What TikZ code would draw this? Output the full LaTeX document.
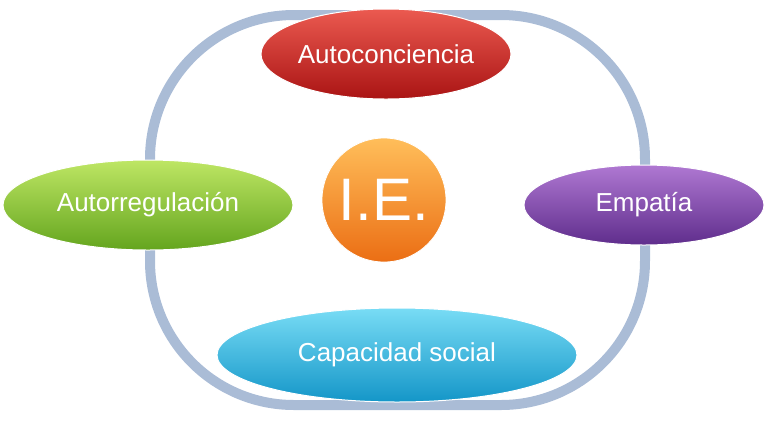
\documentclass[tikz,border=0pt]{standalone}
\usepackage{fontspec}
\setmainfont{Liberation Sans}
\usetikzlibrary{shapes.geometric}
\definecolor{ringc}{RGB}{170,188,214}
\definecolor{redT}{RGB}{235,90,80}\definecolor{redB}{RGB}{170,20,20}
\definecolor{grnT}{RGB}{190,230,100}\definecolor{grnB}{RGB}{100,165,30}
\definecolor{purT}{RGB}{175,120,210}\definecolor{purB}{RGB}{95,45,140}
\definecolor{cyaT}{RGB}{120,220,245}\definecolor{cyaB}{RGB}{20,150,200}
\definecolor{orgT}{RGB}{255,190,90}\definecolor{orgB}{RGB}{235,110,20}
\begin{document}
\begin{tikzpicture}[x=0.5pt,y=-0.5pt,
  blob/.style={ellipse,inner sep=0pt,text=white,font=\fontsize{13}{15}\selectfont,draw=white,line width=0.5pt},
  ring/.style={draw=ringc,line width=5pt,rounded corners=72pt}]
  \useasboundingbox (0,0) rectangle (768,425);
  \draw[ring] (150,15) rectangle (645,405);
  \node[blob,minimum width=125pt,minimum height=45pt,top color=redT,bottom color=redB] (auto) at (386,54) {Autoconciencia};
  \node[blob,minimum width=145pt,minimum height=45pt,top color=grnT,bottom color=grnB] (regu) at (148,205) {Autorregulación};
  \node[blob,minimum width=120pt,minimum height=40pt,top color=purT,bottom color=purB] (empa) at (644,205) {Empatía};
  \node[blob,minimum width=180pt,minimum height=47pt,top color=cyaT,bottom color=cyaB] (capa) at (397,355) {Capacidad social};
  \node[circle,inner sep=0pt,minimum size=62pt,top color=orgT,bottom color=orgB,draw=white,text=white,font=\fontsize{30}{32}\selectfont] (ie) at (384,200) {I.E.};
\end{tikzpicture}
\end{document}
